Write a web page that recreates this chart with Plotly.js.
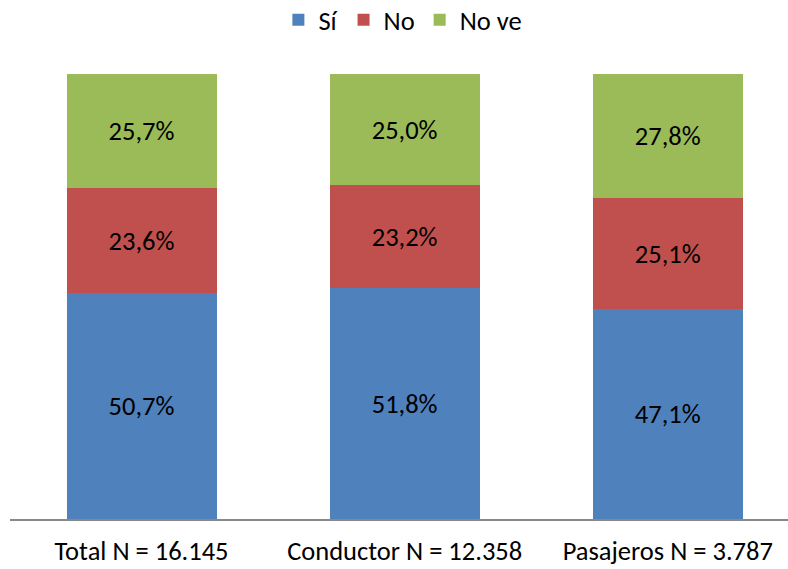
<!DOCTYPE html>
<html><head><meta charset="utf-8">
<script src="https://cdn.plot.ly/plotly-3.0.1.min.js"></script>
<style>body{margin:0;background:#fff}#c{width:788px;height:569px}</style>
</head><body><div id="c"></div>
<script>
const categories = ["Total N = 16.145", "Conductor N = 12.358", "Pasajeros N = 3.787"];
const si = [50.7, 51.8, 47.1];
const no = [23.6, 23.2, 25.1];
const nove = [25.7, 25.0, 27.8];
const seriesNames = ["Sí", "No", "No ve"];
const colors = ["#4f81bd", "#c0504d", "#9bbb59"];
const fmt = v => v.toFixed(1).replace('.', ',') + '%';
const font = {family: "Carlito, Calibri, 'Open Sans', sans-serif", size: 26.5, color: "#000"};
const traces = [si, no, nove].map((vals, i) => ({
  type: 'bar', x: categories, y: vals, name: seriesNames[i],
  marker: {color: colors[i]},
  text: vals.map(fmt), textposition: 'inside', insidetextanchor: 'middle',
  textfont: font, hoverinfo: 'none'
}));
const layout = {
  barmode: 'stack', bargap: 0.43,
  width: 788, height: 569,
  margin: {l: 10, r: 0, t: 74, b: 50},
  paper_bgcolor: '#fff', plot_bgcolor: '#fff',
  font: font,
  showlegend: true,
  legend: {orientation: 'h', x: 0.505, xanchor: 'center', yref: 'container', y: 0.965, yanchor: 'middle', font: font, traceorder: 'normal', itemwidth: 30},
  xaxis: {type: 'category', range: [-0.5, 2.457], showline: true, linecolor: '#898989', linewidth: 2,
          ticks: '', tickfont: font, ticklabelstandoff: 7, showgrid: false, zeroline: false, fixedrange: true, automargin: false},
  yaxis: {range: [0, 100], visible: false, showgrid: false, zeroline: false, fixedrange: true}
};
Plotly.newPlot('c', traces, layout, {displayModeBar: false, staticPlot: true});
</script></body></html>
